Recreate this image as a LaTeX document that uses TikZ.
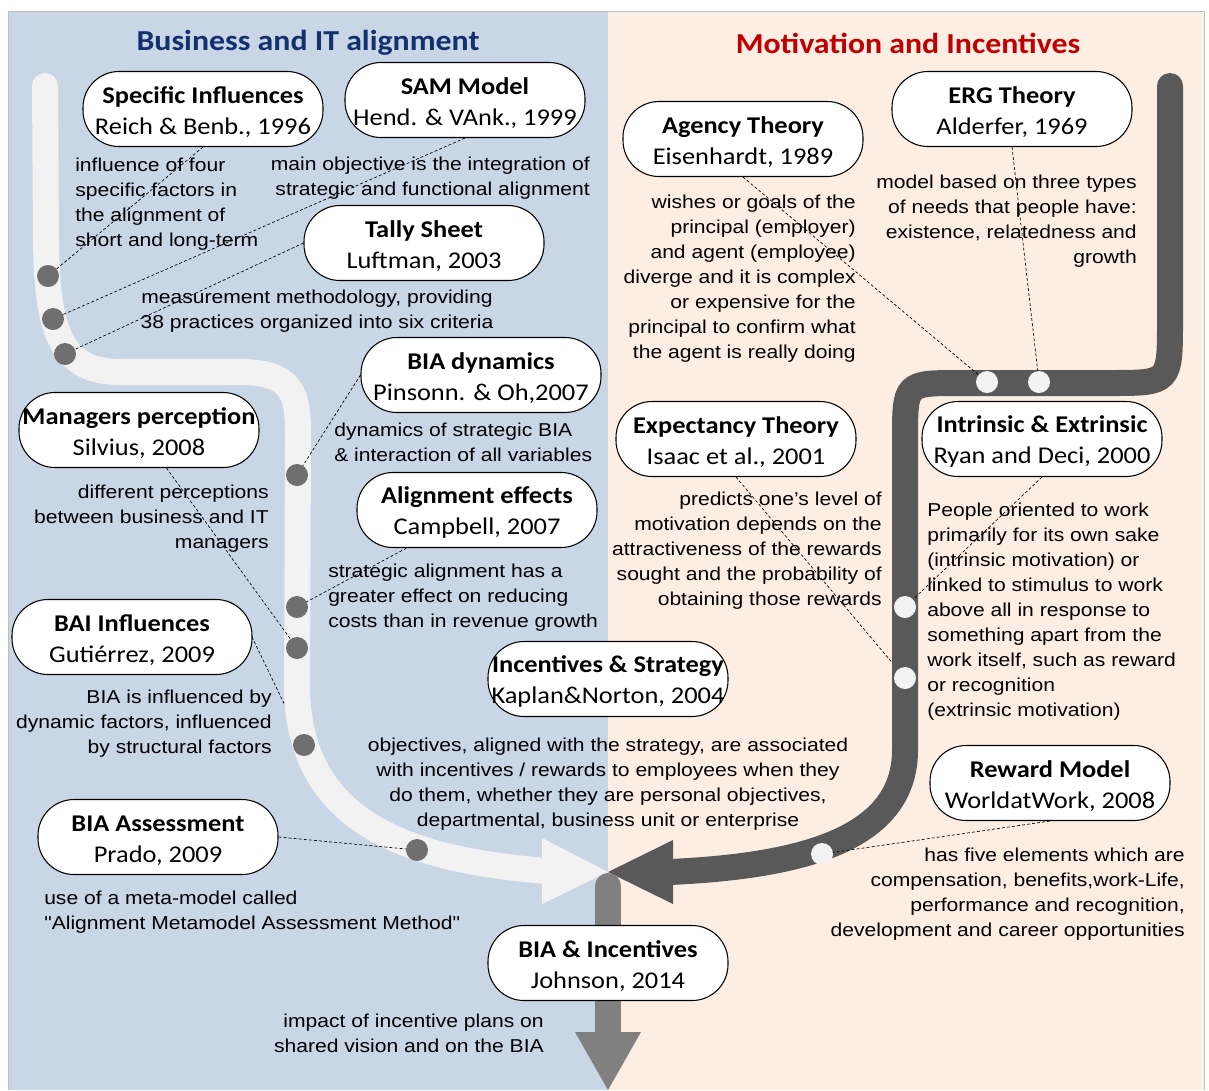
\documentclass[tikz,border=0pt]{standalone}
\usepackage{fontspec}
\newfontfamily\descfont{Liberation Sans}[FakeStretch=1.13]
\newfontfamily\cardfont{Carlito}[FakeStretch=1.1]
\usetikzlibrary{calc}
\definecolor{leftbg}{HTML}{C9D6E5}
\definecolor{rightbg}{HTML}{FDEEE3}
\definecolor{navytitle}{HTML}{14306E}
\definecolor{redtitle}{HTML}{C00000}
\definecolor{lightband}{HTML}{F2F2F2}
\definecolor{darkband}{HTML}{595959}
\definecolor{midband}{HTML}{808080}
\definecolor{dotgray}{HTML}{6F6F6F}
% two-line card text: bold title, then the reference
\newcommand\cardtext[2]{\rule{0pt}{17pt}\textbf{#1}\\#2}
\begin{document}
\begin{tikzpicture}[x=0.75pt,y=-0.75pt,
  card/.style={draw=black, line width=0.8pt, fill=white, rounded corners=27pt,
    minimum width=180pt, minimum height=56.25pt, align=center, inner sep=0pt,
    font=\cardfont\fontsize{18}{23.25}\selectfont},
  desc/.style={font=\descfont\fontsize{14}{18.75}\selectfont, inner sep=0pt},
  descl/.style={desc, align=left, anchor=west},
  descr/.style={desc, align=right, anchor=east},
  descc/.style={desc, align=center},
  link/.style={draw=black, dash pattern=on 2.2pt off 1.6pt, line width=0.5pt},
  graydot/.style={circle, fill=dotgray, minimum size=16.5pt, inner sep=0pt},
  whitedot/.style={circle, fill=lightband, minimum size=16.5pt, inner sep=0pt},
  band/.style={line width=19.5pt, line cap=round},
  heading/.style={font=\cardfont\bfseries\fontsize{21.7}{26}\selectfont}
]
\useasboundingbox (0,0) rectangle (1209,1090);

% two panels
\fill[leftbg] (8,11) rectangle (608,1090);
\fill[rightbg] (608,11) rectangle (1204,1090);
\draw[draw=black!25, line width=0.6pt] (8,1090) -- (8,11) -- (1204,11) -- (1204,1090);

\node[heading, text=navytitle] (hleft) at (308,43) {Business and IT alignment};
\node[heading, text=redtitle] (hright) at (908,43) {Motivation and Incentives};

% card positions (drawn on top of the tracks further below)
\coordinate (spec) at (203,109);
\coordinate (sam) at (465,100);
\coordinate (tally) at (424,243);
\coordinate (dyn) at (481,375);
\coordinate (mgr) at (139,430);
\coordinate (eff) at (477,510);
\coordinate (bai) at (132,637);
\coordinate (strat) at (608,679);
\coordinate (assess) at (158,837);
\coordinate (agency) at (743,139);
\coordinate (erg) at (1012,109);
\coordinate (expect) at (736,439);
\coordinate (intr) at (1042,439);
\coordinate (reward) at (1050,783);

% station positions on the two tracks
\coordinate (a1) at (48,276);
\coordinate (a2) at (53,319);
\coordinate (a3) at (65,354);
\coordinate (a4) at (297,475);
\coordinate (a5) at (297,607);
\coordinate (a6) at (297,648);
\coordinate (a7) at (304,745);
\coordinate (a8) at (417,850);
\coordinate (b1) at (987,382);
\coordinate (b2) at (1039,382);
\coordinate (b3) at (905,607);
\coordinate (b4) at (905,678);
\coordinate (b5) at (822,854);

% links that pass under the tracks
\draw[link] (252,637) -- (a7);
\draw[link] (736,477) -- (b4);

% light track (business and IT alignment)
\draw[band, draw=lightband] (45,86) -- (46,240)
  .. controls (47,330) and (60,372) .. (120,372) -- (240,372)
  .. controls (298,372) and (298,400) .. (298,440) -- (297,690)
  .. controls (300,830) and (420,860) .. (545,871);
\fill[lightband] (542,838) -- (608,872) -- (542,904) -- cycle;

% dark track (motivation and incentives)
\draw[band, draw=darkband] (1170,86) -- (1170,320)
  .. controls (1170,383) .. (1110,383) -- (960,383)
  .. controls (905,383) .. (905,440) -- (905,750)
  .. controls (905,840) and (800,866) .. (670,872);
\fill[darkband] (673,840) -- (608,872) -- (673,904) -- cycle;

% joint track
\draw[band, draw=midband] (608,886) -- (608,1035);
\fill[midband] (575,1032) -- (641,1032) -- (608,1090) -- cycle;

% cards
\node[card] (nspec) at (spec) {\cardtext{Specific Influences}{Reich \& Benb., 1996}};
\node[card] (nsam) at (sam) {\cardtext{SAM Model}{Hend. \& VAnk., 1999}};
\node[card] (ntally) at (tally) {\cardtext{Tally Sheet}{Luftman, 2003}};
\node[card] (ndyn) at (dyn) {\cardtext{BIA dynamics}{Pinsonn. \& Oh,2007}};
\node[card] (nmgr) at (mgr) {\cardtext{Managers perception}{Silvius, 2008}};
\node[card] (neff) at (eff) {\cardtext{Alignment effects}{Campbell, 2007}};
\node[card] (nbai) at (bai) {\cardtext{BAI Influences}{Gutiérrez, 2009}};
\node[card] (nstrat) at (strat) {\cardtext{Incentives \& Strategy}{Kaplan\&Norton, 2004}};
\node[card] (nassess) at (assess) {\cardtext{BIA Assessment}{Prado, 2009}};
\node[card] (nagency) at (agency) {\cardtext{Agency Theory}{Eisenhardt, 1989}};
\node[card] (nerg) at (erg) {\cardtext{ERG Theory}{Alderfer, 1969}};
\node[card] (nexpect) at (expect) {\cardtext{Expectancy Theory}{Isaac et al., 2001}};
\node[card] (nintr) at (intr) {\cardtext{Intrinsic \& Extrinsic}{Ryan and Deci, 2000}};
\node[card] (nreward) at (reward) {\cardtext{Reward Model}{WorldatWork, 2008}};
\node[card] (nfinal) at (608,963) {\cardtext{BIA \& Incentives}{Johnson, 2014}};

% remaining links
\draw[link] (nspec.south) -- (a1);
\draw[link] (nsam.south) -- (a2);
\draw[link] (ntally.west) -- (a3);
\draw[link] (ndyn.west) -- (a4);
\draw[link] (nmgr) -- (a6);
\draw[link] (neff) -- (a5);
\draw[link] (nassess.east) -- (a8);
\draw[link] (nagency.south) -- (b1);
\draw[link] (nerg.south) -- (b2);
\draw[link] (nintr.south) -- (b3);
\draw[link] (nreward.south) -- (b5);

% stations
\foreach \p in {a1,a2,a3,a4,a5,a6,a7,a8} \node[graydot] (s\p) at (\p) {};
\foreach \p in {b1,b2,b3,b4,b5} \node[whitedot] (s\p) at (\p) {};

% descriptions
\node[descl] (t1) at (75,204) {influence of four\\specific factors in\\the alignment of\\short and long-term};
\node[descr] (t2) at (590,178) {main objective is the integration of\\strategic and functional alignment};
\node[descc] (t3) at (317,311) {measurement methodology, providing\\38 practices organized into six criteria};
\node[descl] (t4) at (334,442) {dynamics of strategic BIA\\\& interaction of all variables};
\node[descr] (t5) at (269,519) {different perceptions\\between business and IT\\managers};
\node[descl] (t6) at (328,598) {strategic alignment has a\\greater effect on reducing\\costs than in revenue growth};
\node[descr] (t7) at (272,724) {BIA is influenced by\\dynamic factors, influenced\\by structural factors};
\node[descc] (t8) at (608,784) {objectives, aligned with the strategy, are associated\\with incentives / rewards to employees when they\\do them, whether they are personal objectives,\\departmental, business unit or enterprise};
\node[descl] (t9) at (44,912) {use of a meta-model called\\"Alignment Metamodel Assessment Method"};
\node[descr] (t10) at (544,1033) {impact of incentive plans on\\shared vision and on the BIA};
\node[descr] (t11) at (856,279) {wishes or goals of the\\principal (employer)\\and agent (employee)\\diverge and it is complex\\or expensive for the\\principal to confirm what\\the agent is really doing};
\node[descr] (t12) at (1137,221) {model based on three types\\of needs that people have:\\existence, relatedness and\\growth};
\node[descr] (t13) at (882,551) {predicts one’s level of\\motivation depends on the\\attractiveness of the rewards\\sought and the probability of\\obtaining those rewards};
\node[descl] (t14) at (927,612) {People oriented to work\\primarily for its own sake\\(intrinsic motivation) or\\linked to stimulus to work\\above all in response to\\something apart from the\\work itself, such as reward\\or recognition\\(extrinsic motivation)};
\node[descr] (t15) at (1185,894) {has five elements which are\\compensation, benefits,work-Life,\\performance and recognition,\\development and career opportunities};
\end{tikzpicture}
\end{document}
